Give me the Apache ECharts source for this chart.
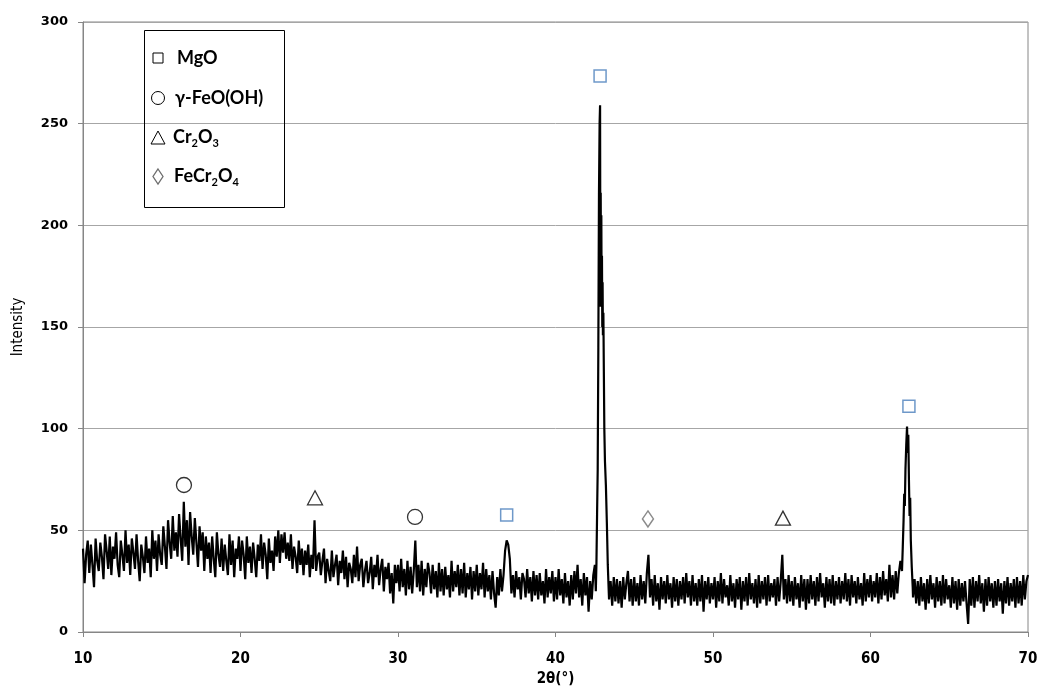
<!DOCTYPE html>
<html>
<head>
<meta charset="utf-8">
<script src="https://cdn.jsdelivr.net/npm/echarts@6/dist/echarts.min.js"></script>
<style>
html,body{margin:0;padding:0;background:#fff;}
#chart{width:1040px;height:687px;}
</style>
</head>
<body>
<div id="chart"></div>
<script>
// ---- Data ----
const step = 0.1;
// background pattern 10.0° .. 42.5°
const seg1Start = 10.0;
const seg1 = [
41,24,38,45,29,43,33,22,46,35,
30,44,37,26,48,40,31,47,28,42,
36,49,33,27,45,38,30,50,34,43,
28,46,39,31,48,35,25,43,37,29,
47,34,41,27,50,36,45,30,48,38,
33,52,42,31,55,44,36,57,40,49,
37,58,46,35,64,42,55,33,59,47,
38,56,44,32,52,40,49,30,47,36,
44,29,47,36,27,49,38,32,46,30,
43,35,28,48,33,45,27,41,36,47,
30,45,38,26,47,34,42,29,44,36,
27,43,35,48,31,44,38,26,46,34,
40,30,47,37,50,34,48,39,49,36,
44,35,48,31,42,37,29,45,33,41,
28,40,33,43,27,38,31,55,30,37,
39,28,35,41,24,36,30,25,40,27,
33,38,23,35,29,40,26,37,22,34,
31,24,38,27,42,25,33,36,22,30,
35,24,29,37,21,33,27,38,23,31,
36,20,32,26,34,19,29,14,33,24,
33,20,36,22,31,18,35,21,32,19,
30,45,22,33,20,35,18,31,22,34,
29,19,33,21,30,17,34,20,31,18,
32,21,28,17,35,20,30,22,33,18,
31,19,34,17,29,21,32,16,30,20,
33,18,29,21,34,17,31,20,28,16,
30,19,12,27,18,31,20,28,40,45,
43,36,19,28,17,30,21,27,16,29,
26,17,31,19,27,15,30,18,28,16,
29,18,25,14,31,17,27,19,30,15,
27,16,31,18,26,14,29,17,25,13,
28,16,30,19,33,17,26,13,29,18,
27,10,25,16,28,33
];
// main MgO reflection around 42.8°
const peak1 = [
[42.56,20],[42.60,34],[42.64,58],[42.68,80],[42.72,140],[42.76,215],[42.80,250],[42.83,259],
[42.85,160],[42.87,216],[42.89,165],[42.91,205],[42.93,160],[42.95,185],[42.97,150],[42.99,172],
[43.01,146],[43.04,157],[43.07,128],[43.10,100],[43.14,84],[43.20,72],[43.26,54],[43.32,33],[43.38,20]
];
// background 43.4° .. 61.9°
const seg2Start = 43.4;
const seg2 = [
16,25,13,27,15,26,
14,25,12,27,16,24,30,15,26,13,
27,15,24,13,28,16,25,14,29,38,
17,26,13,28,15,24,11,27,16,25,
14,28,16,24,12,27,15,26,13,25,
16,27,14,29,17,25,13,28,15,24,
13,26,15,28,10,25,16,27,14,24,
16,27,12,25,15,29,14,26,17,23,
13,28,15,24,12,26,16,27,11,25,
15,27,13,29,16,24,14,26,12,28,
14,25,16,27,13,28,15,24,17,26,
13,27,15,25,38,16,26,14,28,15,
25,13,27,16,24,12,28,15,26,11,
26,14,28,16,25,13,27,15,29,17,
24,12,27,15,26,14,28,13,25,16,
27,14,25,16,29,15,26,13,28,17,
25,14,27,16,24,13,29,15,26,17,
28,15,25,17,29,14,27,16,30,18,
26,15,33,17,28,16,30,19,29,35
];
// MgO reflection around 62.4°
const peak2 = [
[62.00,30],[62.05,42],[62.10,55],[62.14,68],[62.18,62],[62.22,80],[62.27,92],[62.32,101],
[62.36,88],[62.40,97],[62.44,75],[62.48,57],[62.52,66],[62.56,45],[62.62,32],[62.68,22]
];
// background 62.7° .. 70.0°
const seg3Start = 62.7;
const seg3 = [
17,26,14,
25,13,27,15,24,11,26,14,28,16,
24,12,27,15,25,13,28,14,26,16,
23,12,27,14,25,11,26,13,24,15,
25,14,4,26,13,27,12,25,15,28,
14,24,10,26,13,27,15,24,12,25,
13,26,15,24,9,25,14,27,13,24,
15,26,12,27,14,25,13,28,16,25,
28
];
// phase markers [2θ, intensity]
const mgoMarks = [[36.9,57.5],[42.83,273.5],[62.44,111]];
const feoohMarks = [[16.41,72.3],[31.08,56.6]];
const cr2o3Marks = [[24.73,66],[54.44,56]];
const fecr2o4Marks = [[45.87,55.6]];

const xTicks = [10,20,30,40,50,60,70];
const yTicks = [0,50,100,150,200,250,300];

function grid01(start, arr){
  return arr.map((v,i)=>[+(start + i*step).toFixed(2), v]);
}
const pattern = [].concat(grid01(seg1Start, seg1), peak1, grid01(seg2Start, seg2), peak2, grid01(seg3Start, seg3));

const chart = echarts.init(document.getElementById('chart'), null, {renderer:'canvas'});
const axisGray = '#868686';
const markerBase = {type:'scatter', z:5, silent:true};
const sub = {fontSize:11, lineHeight:11, verticalAlign:'bottom', fontFamily:'Lato', fontWeight:'bold', fill:'#000'};
const legX = 158, txtX = 175;
chart.setOption({
  animation:false,
  backgroundColor:'#fff',
  grid:{left:83, right:12, top:22, bottom:55, containLabel:false, outerBoundsMode:'none',
        show:true, borderColor:axisGray, borderWidth:1},
  xAxis:{
    type:'value', min:10, max:70, interval:10,
    name:'2θ(°)', nameLocation:'middle', nameGap:37,
    nameTextStyle:{fontFamily:'Liberation Sans Narrow, DejaVu Sans Condensed', fontWeight:'bold', fontSize:15, color:'#000'},
    axisLine:{show:true, onZero:false, lineStyle:{color:axisGray, width:1}},
    axisTick:{show:true, inside:false, length:5, lineStyle:{color:axisGray}},
    axisLabel:{margin:20, fontFamily:'Liberation Sans Narrow, DejaVu Sans Condensed', fontWeight:'bold', fontSize:15, color:'#000',
      formatter:v=> xTicks.indexOf(v)>=0 ? String(v) : ''},
    splitLine:{show:false}
  },
  yAxis:{
    type:'value', min:0, max:300, interval:50,
    name:'Intensity', nameLocation:'middle', nameGap:57, nameRotate:90,
    nameTextStyle:{fontFamily:'Liberation Sans Narrow, DejaVu Sans Condensed', fontSize:15, color:'#000'},
    axisLine:{show:true, lineStyle:{color:axisGray, width:1}},
    axisTick:{show:true, inside:false, length:5, lineStyle:{color:axisGray}},
    axisLabel:{margin:15, fontFamily:'DejaVu Sans', fontWeight:'bold', fontSize:13, color:'#000',
      formatter:v=> yTicks.indexOf(v)>=0 ? String(v) : ''},
    splitLine:{show:true, lineStyle:{color:'#a6a6a6', width:1}}
  },
  series:[
    {type:'line', data:pattern, showSymbol:false, symbol:'none', z:3, silent:true,
     lineStyle:{color:'#000', width:2.2}},
    Object.assign({}, markerBase, {data:mgoMarks, symbol:'rect', symbolSize:12,
      itemStyle:{color:'rgba(255,255,255,0)', borderColor:'#4a7ebb', borderWidth:1.5}}),
    Object.assign({}, markerBase, {data:feoohMarks, symbol:'circle', symbolSize:15,
      itemStyle:{color:'rgba(255,255,255,0)', borderColor:'#000', borderWidth:1.3}}),
    Object.assign({}, markerBase, {data:cr2o3Marks, symbol:'triangle', symbolSize:[15,14],
      itemStyle:{color:'rgba(255,255,255,0)', borderColor:'#000', borderWidth:1.3}}),
    Object.assign({}, markerBase, {data:fecr2o4Marks, symbol:'diamond', symbolSize:[11,16],
      itemStyle:{color:'rgba(255,255,255,0)', borderColor:'#6d6d6d', borderWidth:1.5}})
  ],
  graphic:[
    {type:'rect', shape:{x:144.5, y:30.5, width:140, height:177}, style:{fill:'none', stroke:'#000', lineWidth:1}, z:10},
    {type:'rect', shape:{x:legX-5, y:53, width:10, height:10}, style:{fill:'none', stroke:'#000', lineWidth:1}, z:10},
    {type:'text', x:txtX+2, y:58, z:10, style:{text:'MgO', fontFamily:'Lato', fontWeight:'bold', fontSize:18, fill:'#000', verticalAlign:'middle'}},
    {type:'circle', shape:{cx:legX, cy:98, r:6.5}, style:{fill:'none', stroke:'#000', lineWidth:1}, z:10},
    {type:'text', x:txtX, y:98, z:10, style:{text:'γ-FeO(OH)', fontFamily:'Lato', fontWeight:'bold', fontSize:18, fill:'#000', verticalAlign:'middle'}},
    {type:'polygon', shape:{points:[[legX-7,144],[legX+7,144],[legX,131]]}, style:{fill:'none', stroke:'#000', lineWidth:1}, z:10},
    {type:'text', x:txtX-2, y:137, z:10, style:{text:'Cr{sub|2}O{sub|3}', fontFamily:'Lato', fontWeight:'bold', fontSize:18, lineHeight:24, fill:'#000', verticalAlign:'middle', rich:{sub:sub}}},
    {type:'polygon', shape:{points:[[legX,169],[legX+5,176.5],[legX,184],[legX-5,176.5]]}, style:{fill:'none', stroke:'#6d6d6d', lineWidth:1.3}, z:10},
    {type:'text', x:txtX-1, y:176, z:10, style:{text:'FeCr{sub|2}O{sub|4}', fontFamily:'Lato', fontWeight:'bold', fontSize:18, lineHeight:24, fill:'#000', verticalAlign:'middle', rich:{sub:sub}}}
  ]
});
</script>
</body>
</html>
